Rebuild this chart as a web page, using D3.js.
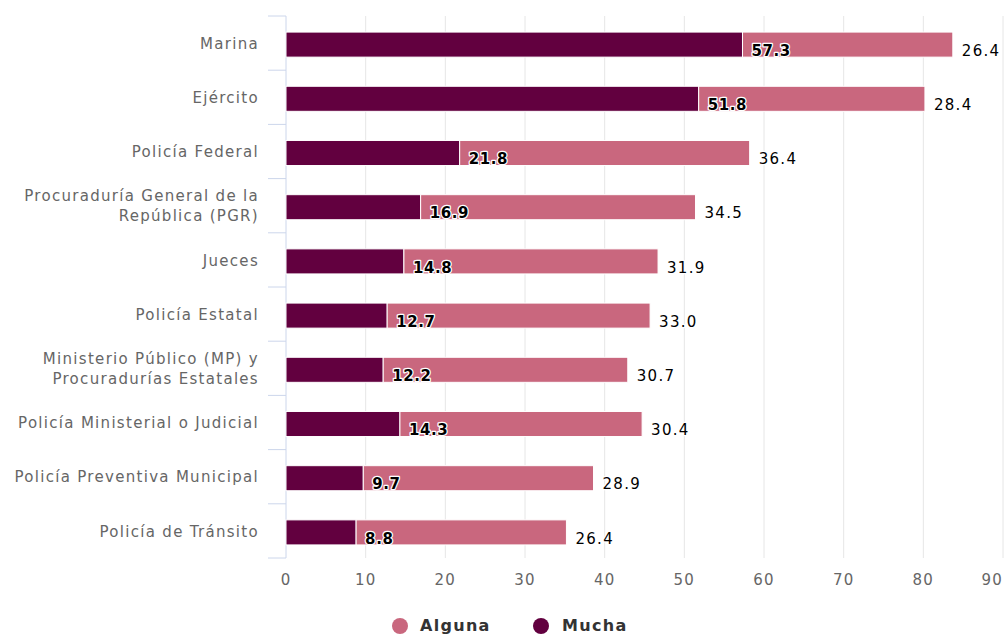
<!DOCTYPE html>
<html>
<head>
<meta charset="utf-8">
<script src="https://cdn.jsdelivr.net/npm/d3@7"></script>
<style>
  html, body { margin: 0; padding: 0; background: #fff; }
  svg { display: block; }
</style>
</head>
<body>
<svg id="chart" width="1005" height="637"></svg>
<script>
const categories = [
  ["Marina"],
  ["Ejército"],
  ["Policía Federal"],
  ["Procuraduría General de la", "República (PGR)"],
  ["Jueces"],
  ["Policía Estatal"],
  ["Ministerio Público (MP) y", "Procuradurías Estatales"],
  ["Policía Ministerial o Judicial"],
  ["Policía Preventiva Municipal"],
  ["Policía de Tránsito"]
];
const mucha  = [57.3, 51.8, 21.8, 16.9, 14.8, 12.7, 12.2, 14.3, 9.7, 8.8];
const alguna = [26.4, 28.4, 36.4, 34.5, 31.9, 33.0, 30.7, 30.4, 28.9, 26.4];
const xTicks = [0, 10, 20, 30, 40, 50, 60, 70, 80, 90];
const seriesNames = ["Alguna", "Mucha"];
const colors = { Alguna: "#c9677e", Mucha: "#62003f" };

const svg = d3.select("#chart");
const font = "'DejaVu Sans', Verdana, sans-serif";

const x = d3.scaleLinear().domain([0, 90]).range([286, 1003]);
const idx = categories.map((d, i) => i);
const yOuter = d3.scaleBand().domain(idx).range([16, 558]);
const y = d3.scaleBand().domain(idx).range([17.5, 559.5]).paddingInner(0.538).paddingOuter(0.269);

// gridlines
svg.append("g").selectAll("line").data(xTicks.slice(1)).join("line")
  .attr("x1", d => x(d)).attr("x2", d => x(d))
  .attr("y1", 16).attr("y2", 558)
  .attr("stroke", "#e6e6e6").attr("stroke-width", 1);

// category axis line
svg.append("line").attr("x1", 286).attr("x2", 286).attr("y1", 16).attr("y2", 558)
  .attr("stroke", "#ccd6eb").attr("stroke-width", 1);
// category ticks at boundaries
const bounds = idx.map(i => yOuter(i)).concat([558]);
svg.append("g").selectAll("line").data(bounds).join("line")
  .attr("x1", 268).attr("x2", 286)
  .attr("y1", d => d).attr("y2", d => d)
  .attr("stroke", "#ccd6eb").attr("stroke-width", 1);

// category labels
const catG = svg.append("g");
categories.forEach((lines, i) => {
  const cy = yOuter(i) + yOuter.bandwidth() / 2 + 0.5;
  const lh = 20;
  const t = catG.append("text")
    .attr("text-anchor", "end")
    .attr("font-family", font).attr("font-size", 15)
    .attr("letter-spacing", 1.3)
    .attr("fill", "#666");
  lines.forEach((ln, j) => {
    t.append("tspan").attr("x", 259)
      .attr("y", cy + (j - (lines.length - 1) / 2) * lh)
      .attr("dy", "0.35em").text(ln);
  });
});

// x tick labels
svg.append("g").selectAll("text").data(xTicks).join("text")
  .attr("x", d => x(d))
  .attr("y", 580).attr("dy", "0.35em")
  .attr("text-anchor", d => d === 90 ? "end" : "middle")
  .attr("font-family", font).attr("font-size", 15)
  .attr("letter-spacing", 1.2)
  .attr("fill", "#666")
  .text(d => d);

// bars
const bh = y.bandwidth();
const barsG = svg.append("g");
barsG.selectAll("rect.m").data(mucha).join("rect").attr("class", "m")
  .attr("x", x(0)).attr("y", (d, i) => y(i))
  .attr("width", d => x(d) - x(0)).attr("height", bh)
  .attr("fill", colors.Mucha).attr("stroke", "#fff").attr("stroke-width", 1);
barsG.selectAll("rect.a").data(alguna).join("rect").attr("class", "a")
  .attr("x", (d, i) => x(mucha[i])).attr("y", (d, i) => y(i))
  .attr("width", (d, i) => x(mucha[i] + d) - x(mucha[i])).attr("height", bh)
  .attr("fill", colors.Alguna).attr("stroke", "#fff").attr("stroke-width", 1);

// data labels
function label(val, xEnd, i, bold) {
  svg.append("text")
    .attr("x", xEnd + 9)
    .attr("y", y(i) + bh / 2 + 6).attr("dy", "0.35em")
    .attr("font-family", font).attr("font-size", 15)
    .attr("font-weight", bold ? "bold" : "normal")
    .attr("letter-spacing", bold ? 0.6 : 1.3)
    .attr("fill", "#000").attr("stroke", "#fff").attr("stroke-width", 2.5)
    .attr("stroke-linejoin", "round").attr("paint-order", "stroke")
    .text(val.toFixed(1));
}
mucha.forEach((v, i) => label(v, x(v), i, true));
alguna.forEach((v, i) => label(v, x(mucha[i] + v), i, false));

// legend
const legend = [
  { name: seriesNames[0], cx: 400, tx: 420 },
  { name: seriesNames[1], cx: 541, tx: 562 }
];
legend.forEach(l => {
  svg.append("circle").attr("cx", l.cx).attr("cy", 626).attr("r", 8)
    .attr("fill", colors[l.name]);
  svg.append("text").attr("x", l.tx).attr("y", 625.5).attr("dy", "0.35em")
    .attr("font-family", font).attr("font-size", 16).attr("font-weight", "bold")
    .attr("letter-spacing", 1.3)
    .attr("fill", "#333").text(l.name);
});
</script>
</body>
</html>
